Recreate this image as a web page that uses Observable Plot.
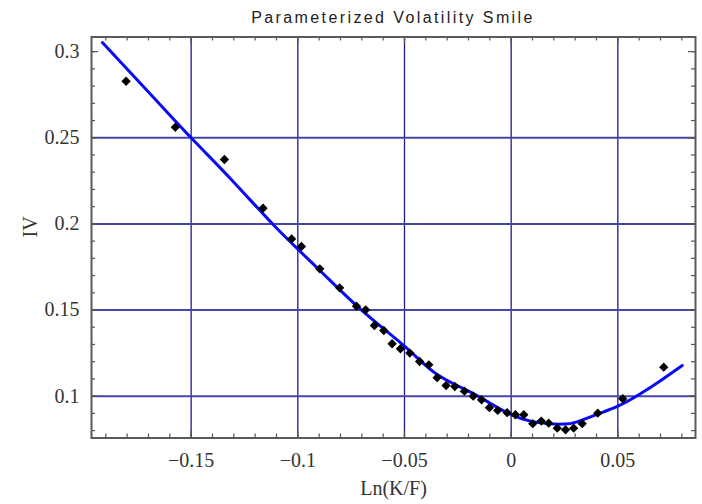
<!DOCTYPE html>
<html>
<head>
<meta charset="utf-8">
<script src="https://cdn.jsdelivr.net/npm/d3@7"></script>
<script src="https://cdn.jsdelivr.net/npm/@observablehq/plot@0.6"></script>
<style>
  html, body { margin: 0; padding: 0; background: #fff; }
  #title {
    margin-left: 91px; width: 604px; height: 22px; padding-top: 6px;
    line-height: 24px; text-align: center;
    font-family: "Liberation Sans", Arial, sans-serif; font-size: 16px;
    letter-spacing: 2.4px; color: #222;
  }
</style>
</head>
<body>
<div id="title">Parameterized Volatility Smile</div>
<div id="chart"></div>
<script>
// Market points: ln(K/F) and implied volatility
const pointX = [-0.1805, -0.1574, -0.1344, -0.1163, -0.1029, -0.0983, -0.0897, -0.0804, -0.0725, -0.0682,
  -0.0641, -0.0597, -0.0558, -0.0519, -0.0475, -0.0429, -0.0386, -0.0347, -0.0305, -0.0264,
  -0.0219, -0.0178, -0.0139, -0.0102, -0.0063, -0.0019, 0.0020, 0.0059, 0.0101, 0.0141,
  0.0176, 0.0216, 0.0255, 0.0293, 0.0333, 0.0406, 0.0523, 0.0715];
const pointIV = [0.2828, 0.2561, 0.2374, 0.2091, 0.1913, 0.1869, 0.1739, 0.1629, 0.1522, 0.1501,
  0.1410, 0.1381, 0.1304, 0.1275, 0.1250, 0.1201, 0.1182, 0.1107, 0.1062, 0.1056,
  0.1029, 0.1000, 0.0979, 0.0933, 0.0917, 0.0904, 0.0892, 0.0892, 0.0840, 0.0855,
  0.0843, 0.0814, 0.0805, 0.0814, 0.0840, 0.0901, 0.0985, 0.1168];

// Fitted (parameterized) smile
const curveX = [-0.1916, -0.17, -0.15, -0.13, -0.11, -0.09, -0.07, -0.05, -0.035, -0.02,
  -0.01, 0, 0.01, 0.02, 0.025, 0.03, 0.04, 0.05, 0.06, 0.07, 0.0802];
const curveIV = [0.3053, 0.2766, 0.2500, 0.2242, 0.1976, 0.1734, 0.1498, 0.1290, 0.1128, 0.1029,
  0.0960, 0.0893, 0.0852, 0.0838, 0.0838, 0.0848, 0.0893, 0.0942, 0.1010, 0.1090, 0.1178];

// Axes
const xTicks = [-0.15, -0.1, -0.05, 0, 0.05];
const xTickLabels = ["\u22120.15", "\u22120.1", "\u22120.05", "0", "0.05"];
const yTicks = [0.1, 0.15, 0.2, 0.25, 0.3];
const yTickLabels = ["0.1", "0.15", "0.2", "0.25", "0.3"];
const xGrid = [-0.15, -0.1, -0.05, 0, 0.05];
const yGrid = [0.1, 0.15, 0.2, 0.25];
const xMinor = d3.range(-19, 9).map(i => i / 100);
const yMinor = d3.range(8, 31).map(i => i / 100);
const xDomain = [-0.1967, 0.0864];
const yDomain = [0.0757, 0.3085];
const xLabel = "Ln(K/F)";
const yLabel = "IV";

const points = pointX.map((x, i) => ({x, y: pointIV[i]}));
const curve = curveX.map((x, i) => ({x, y: curveIV[i]}));
const xLab = new Map(xTicks.map((t, i) => [t, xTickLabels[i]]));
const yLab = new Map(yTicks.map((t, i) => [t, yTickLabels[i]]));

const W = 702, H = 476;
const mL = 91, mR = 7, mT = 8.5, mB = 66.5;
const fw = W - mL - mR, fh = H - mT - mB;
const tickCol = "#555";
const serif = "'Liberation Serif', 'Times New Roman', serif";

const chart = Plot.plot({
  width: W, height: H,
  marginLeft: mL, marginRight: mR, marginTop: mT, marginBottom: mB,
  x: {domain: xDomain},
  y: {domain: yDomain},
  style: {background: "#fff"},
  marks: [
    Plot.ruleX(xGrid, {stroke: "#1c1c8c", strokeWidth: 1.3}),
    Plot.ruleY(yGrid, {stroke: "#4646a8", strokeWidth: 2}),
    // inward minor ticks on all four sides
    Plot.tickX(xMinor, {stroke: tickCol, strokeWidth: 1.2, insetTop: fh - 4}),
    Plot.tickX(xMinor, {stroke: tickCol, strokeWidth: 1.2, insetBottom: fh - 4}),
    Plot.tickY(yMinor, {stroke: tickCol, strokeWidth: 1.2, insetRight: fw - 4}),
    Plot.tickY(yMinor, {stroke: tickCol, strokeWidth: 1.2, insetLeft: fw - 4}),
    Plot.tickX(xTicks, {stroke: tickCol, strokeWidth: 1.2, insetTop: fh - 7}),
    Plot.tickX(xTicks, {stroke: tickCol, strokeWidth: 1.2, insetBottom: fh - 7}),
    Plot.tickY(yTicks, {stroke: tickCol, strokeWidth: 1.2, insetRight: fw - 7}),
    Plot.tickY(yTicks, {stroke: tickCol, strokeWidth: 1.2, insetLeft: fw - 7}),
    Plot.line(curve, {x: "x", y: "y", stroke: "#0a0af5", strokeWidth: 3, curve: "natural"}),
    Plot.dot(points, {x: "x", y: "y", symbol: "diamond2", r: 4.2, fill: "#000", stroke: "none"}),
    Plot.frame({stroke: "#5a5a5a", strokeWidth: 2}),
    Plot.axisX(xTicks, {tickSize: 0, tickPadding: 15, tickFormat: d => xLab.get(d),
      fontSize: 20, fontFamily: serif, fill: "#333", label: null}),
    Plot.axisY(yTicks, {tickSize: 0, tickPadding: 12, tickFormat: d => yLab.get(d),
      fontSize: 20, fontFamily: serif, fill: "#333", label: null}),
    Plot.text([xLabel], {frameAnchor: "bottom", dy: 51, fontSize: 20, fontFamily: serif, fill: "#333", lineAnchor: "middle"}),
    Plot.text([yLabel], {frameAnchor: "left", dx: -61, rotate: -90, fontSize: 20, fontFamily: serif, fill: "#333"})
  ]
});
document.getElementById("chart").appendChild(chart);
</script>
</body>
</html>
